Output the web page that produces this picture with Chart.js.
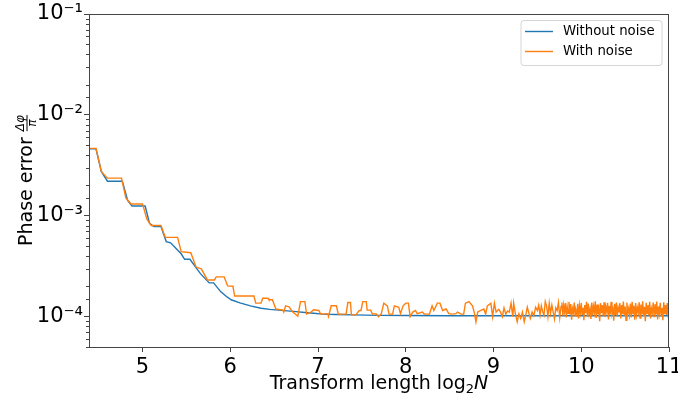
<!DOCTYPE html>
<html>
<head>
<meta charset="utf-8">
<script src="https://cdn.jsdelivr.net/npm/chart.js@4/dist/chart.umd.min.js"></script>
<style>
  body { margin: 0; background: #fff; }
  #wrap { width: 678px; height: 396px; position: relative; }
</style>
</head>
<body>
<div id="wrap"><canvas id="phaseChart"></canvas></div>
<script>
// x = log2 N, y = phase error (dphi / pi)
const xTicks = [5, 6, 7, 8, 9, 10, 11];
const labels = ['Without noise', 'With noise'];

// Without noise
const withoutNoise = [
  [4.39, 4.6e-3], [4.47, 4.6e-3], [4.53, 2.75e-3], [4.60, 2.2e-3], [4.77, 2.2e-3],
  [4.83, 1.42e-3], [4.88, 1.25e-3], [5.03, 1.25e-3], [5.08, 8.4e-4], [5.13, 7.8e-4],
  [5.21, 7.8e-4], [5.27, 5.55e-4], [5.32, 5.4e-4], [5.44, 4.2e-4], [5.48, 3.7e-4],
  [5.54, 3.7e-4], [5.62, 2.98e-4], [5.66, 2.67e-4], [5.76, 2.16e-4], [5.81, 2.16e-4],
  [5.89, 1.77e-4], [5.95, 1.6e-4], [6.01, 1.47e-4], [6.11, 1.37e-4], [6.23, 1.28e-4],
  [6.35, 1.21e-4], [6.45, 1.18e-4], [6.55, 1.16e-4], [6.65, 1.14e-4], [6.75, 1.12e-4],
  [6.85, 1.10e-4], [6.95, 1.08e-4], [7.05, 1.06e-4], [7.2, 1.05e-4], [7.4, 1.04e-4],
  [7.7, 1.03e-4], [8.0, 1.025e-4], [8.5, 1.02e-4], [9.0, 1.02e-4], [10.0, 1.02e-4],
  [11.0, 1.02e-4]
];

// With noise
const withNoise = [
  [4.39, 4.65e-3], [4.47, 4.65e-3], [4.53, 2.75e-3], [4.60, 2.36e-3], [4.76, 2.36e-3],
  [4.81, 1.5e-3], [4.87, 1.31e-3], [5.00, 1.31e-3], [5.05, 9.25e-4], [5.10, 8.0e-4],
  [5.21, 8.0e-4], [5.26, 6.1e-4], [5.40, 6.1e-4], [5.44, 4.4e-4], [5.55, 4.3e-4],
  [5.61, 3.1e-4], [5.67, 2.98e-4], [5.74, 2.31e-4], [5.82, 2.31e-4], [5.84, 2.48e-4],
  [5.93, 2.48e-4], [5.97, 2.02e-4], [6.03, 2.0e-4], [6.05, 1.6e-4], [6.27, 1.6e-4],
  [6.29, 1.36e-4], [6.35, 1.36e-4], [6.37, 1.52e-4], [6.43, 1.52e-4], [6.44, 1.47e-4],
  [6.48, 1.47e-4], [6.52, 1.19e-4], [6.60, 1.16e-4], [6.61, 1.11e-4], [6.63, 1.28e-4],
  [6.67, 1.25e-4], [6.71, 1.12e-4], [6.77, 1.01e-4], [6.80, 1.41e-4], [6.85, 1.41e-4],
  [6.87, 1.06e-4], [6.92, 1.11e-4], [6.95, 1.17e-4], [7.01, 1.15e-4], [7.03, 1.06e-4],
  [7.11, 1.07e-4], [7.12, 1.0e-4], [7.15, 1.28e-4], [7.21, 1.28e-4], [7.23, 1.06e-4],
  [7.32, 1.06e-4], [7.34, 1.38e-4], [7.37, 1.38e-4], [7.38, 1.04e-4], [7.43, 1.04e-4],
  [7.47, 1.15e-4], [7.49, 1.15e-4], [7.51, 1.41e-4], [7.55, 1.41e-4], [7.56, 1.16e-4],
  [7.60, 1.16e-4], [7.62, 1.06e-4], [7.66, 1.07e-4], [7.69, 1.0e-4], [7.72, 1.06e-4],
  [7.75, 1.36e-4], [7.79, 1.28e-4], [7.81, 1.06e-4], [7.85, 1.06e-4], [7.87, 1.28e-4],
  [7.92, 1.24e-4], [7.94, 1.07e-4], [7.97, 1.28e-4], [8.00, 1.36e-4], [8.03, 1.36e-4],
  [8.05, 1.0e-4], [8.08, 1.11e-4], [8.11, 1.15e-4], [8.13, 1.07e-4], [8.19, 1.11e-4],
  [8.21, 1.06e-4], [8.27, 1.06e-4], [8.30, 1.28e-4], [8.32, 1.15e-4], [8.36, 1.36e-4],
  [8.39, 1.36e-4], [8.42, 1.15e-4], [8.46, 1.19e-4], [8.49, 1.07e-4], [8.53, 1.06e-4],
  [8.57, 1.07e-4], [8.59, 1.11e-4], [8.63, 1.06e-4], [8.66, 1.06e-4], [8.68, 1.36e-4],
  [8.72, 1.41e-4], [8.76, 1.28e-4], [8.78, 1.11e-4], [8.80, 0.89e-4], [8.82, 1.11e-4],
  [8.85, 1.15e-4], [8.89, 1.19e-4], [8.91, 1.06e-4], [8.93, 1.28e-4], [8.97, 1.36e-4],
  [8.99, 1.0e-4], [9.01, 1.36e-4], [9.03, 1.11e-4], [9.06, 1.18e-4], [9.08, 1.11e-4],
  [9.10, 1.0e-4], [9.12, 1.22e-4], [9.14, 1.06e-4], [9.16, 1.14e-4], [9.18, 1.11e-4],
  [9.20, 1.36e-4], [9.22, 1.0e-4], [9.23, 1.36e-4], [9.25, 1.06e-4], [9.27, 0.89e-4],
  [9.29, 1.07e-4], [9.31, 0.96e-4], [9.33, 1.11e-4], [9.35, 0.89e-4], [9.37, 1.06e-4],
  [9.385, 1.24e-4], [9.40, 1.11e-4], [9.42, 0.96e-4], [9.44, 1.11e-4], [9.46, 1.02e-4],
  [9.48, 1.24e-4], [9.50, 1.15e-4], [9.515, 1.30e-4], [9.53, 1.04e-4], [9.545, 1.28e-4],
  [9.56, 1.12e-4], [9.575, 1.03e-4], [9.59, 1.41e-4], [9.605, 1.28e-4], [9.62, 1.0e-4],
  [9.635, 1.36e-4], [9.65, 1.08e-4], [9.665, 1.30e-4], [9.68, 1.11e-4], [9.695, 0.95e-4],
  [9.71, 1.22e-4], [9.725, 1.15e-4], [9.74, 1.38e-4], [9.755, 0.98e-4], [9.77, 1.26e-4],
  [9.78, 1.38e-4], [9.79, 1.02e-4], [9.80, 1.30e-4], [9.81, 1.12e-4], [9.82, 1.36e-4],
  [9.83, 0.98e-4], [9.84, 1.25e-4], [9.85, 1.08e-4], [9.86, 1.40e-4], [9.87, 1.05e-4],
  [9.88, 1.33e-4], [9.89, 0.93e-4], [9.90, 1.20e-4], [9.91, 1.10e-4], [9.92, 1.38e-4],
  [9.93, 1.02e-4], [9.94, 1.15e-4], [9.95, 1.06e-4], [9.96, 1.34e-4], [9.97, 0.96e-4],
  [9.98, 1.28e-4], [9.99, 1.10e-4], [10.00, 1.36e-4], [10.01, 1.04e-4], [10.02, 1.22e-4],
  [10.03, 0.92e-4], [10.04, 1.30e-4], [10.05, 1.08e-4], [10.06, 1.40e-4], [10.07, 1.00e-4],
  [10.08, 1.35e-4], [10.09, 1.06e-4], [10.10, 1.18e-4], [10.11, 0.95e-4], [10.12, 1.38e-4],
  [10.13, 1.03e-4], [10.14, 1.26e-4], [10.15, 1.10e-4], [10.16, 1.42e-4], [10.17, 0.97e-4],
  [10.18, 1.32e-4], [10.19, 1.06e-4], [10.20, 1.20e-4], [10.21, 0.90e-4], [10.22, 1.36e-4],
  [10.23, 1.08e-4], [10.24, 1.30e-4], [10.25, 1.02e-4], [10.26, 1.39e-4], [10.27, 0.99e-4],
  [10.28, 1.24e-4], [10.29, 1.12e-4], [10.30, 1.37e-4], [10.31, 0.94e-4], [10.32, 1.28e-4],
  [10.33, 1.05e-4], [10.34, 1.40e-4], [10.35, 1.08e-4], [10.36, 1.18e-4], [10.37, 0.91e-4],
  [10.38, 1.34e-4], [10.39, 1.04e-4], [10.40, 1.38e-4], [10.41, 1.00e-4], [10.42, 1.22e-4],
  [10.43, 1.10e-4], [10.44, 1.36e-4], [10.45, 0.96e-4], [10.46, 1.30e-4], [10.47, 1.06e-4],
  [10.48, 1.41e-4], [10.49, 1.02e-4], [10.50, 1.26e-4], [10.51, 0.92e-4], [10.52, 1.38e-4],
  [10.53, 1.08e-4], [10.54, 1.20e-4], [10.55, 1.04e-4], [10.56, 1.35e-4], [10.57, 0.98e-4],
  [10.58, 1.40e-4], [10.59, 1.07e-4], [10.60, 1.28e-4], [10.61, 0.93e-4], [10.62, 1.36e-4],
  [10.63, 1.05e-4], [10.64, 1.22e-4], [10.65, 1.10e-4], [10.66, 1.39e-4], [10.67, 0.97e-4],
  [10.68, 1.32e-4], [10.69, 1.06e-4], [10.70, 1.42e-4], [10.71, 1.01e-4], [10.72, 1.25e-4],
  [10.73, 0.90e-4], [10.74, 1.37e-4], [10.75, 1.08e-4], [10.76, 1.30e-4], [10.77, 1.03e-4],
  [10.78, 1.40e-4], [10.79, 0.96e-4], [10.80, 1.20e-4], [10.81, 1.10e-4], [10.82, 1.38e-4],
  [10.83, 1.00e-4], [10.84, 1.33e-4], [10.85, 1.06e-4], [10.86, 1.41e-4], [10.87, 0.94e-4],
  [10.88, 1.26e-4], [10.89, 1.08e-4], [10.90, 1.37e-4], [10.91, 1.02e-4], [10.92, 1.22e-4],
  [10.93, 0.92e-4], [10.94, 1.39e-4], [10.95, 1.06e-4], [10.96, 1.30e-4], [10.97, 1.04e-4],
  [10.98, 1.36e-4], [10.99, 0.98e-4], [11.00, 1.20e-4]
];

const colors = ['#1f77b4', '#ff7f0e'];
const FONT = "'DejaVu Sans', sans-serif";
const SUP = { '-': '\u207B', '0': '\u2070', '1': '\u00B9', '2': '\u00B2', '3': '\u00B3',
  '4': '\u2074', '5': '\u2075', '6': '\u2076', '7': '\u2077', '8': '\u2078', '9': '\u2079' };

function isDecade(v) {
  const e = Math.log10(v);
  return Math.abs(e - Math.round(e)) < 1e-9;
}

// frame, minor ticks, axis titles and legend in matplotlib style
const decor = {
  id: 'decor',
  beforeDraw(chart) {
    const ctx = chart.ctx;
    ctx.save();
    ctx.fillStyle = '#fff';
    ctx.fillRect(0, 0, chart.width, chart.height);
    ctx.restore();
  },
  afterDraw(chart) {
    const ctx = chart.ctx;
    const a = chart.chartArea;
    const ys = chart.scales.y;
    ctx.save();

    // frame
    ctx.strokeStyle = '#444';
    ctx.lineWidth = 1;
    ctx.strokeRect(a.left + 0.5, a.top + 0.5, a.right - a.left - 1, a.bottom - a.top);

    // minor y ticks
    ys.ticks.forEach(t => {
      if (isDecade(t.value)) return;
      const py = Math.round(ys.getPixelForValue(t.value)) + 0.5;
      ctx.beginPath();
      ctx.moveTo(a.left - 3, py);
      ctx.lineTo(a.left, py);
      ctx.stroke();
    });

    ctx.fillStyle = '#000';

    // x title: Transform length log2 N
    const xt1 = 'Transform length log';
    ctx.font = '19px ' + FONT;
    const w1 = ctx.measureText(xt1).width;
    ctx.font = '13px ' + FONT;
    const w2 = ctx.measureText('2').width;
    ctx.font = 'italic 19px ' + FONT;
    const w3 = ctx.measureText('N').width;
    const cx = (a.left + a.right) / 2;
    let x0 = cx - (w1 + w2 + w3) / 2;
    const base = 389;
    ctx.textBaseline = 'alphabetic';
    ctx.textAlign = 'left';
    ctx.font = '19px ' + FONT;
    ctx.fillText(xt1, x0, base);
    ctx.font = '13px ' + FONT;
    ctx.fillText('2', x0 + w1, base + 4);
    ctx.font = 'italic 19px ' + FONT;
    ctx.fillText('N', x0 + w1 + w2, base);

    // y title: Phase error dphi/pi
    ctx.save();
    ctx.translate(26, (a.top + a.bottom) / 2);
    ctx.rotate(-Math.PI / 2);
    const yt = 'Phase error';
    ctx.font = '19px ' + FONT;
    const wy = ctx.measureText(yt + ' ').width;
    ctx.font = 'italic 12px ' + FONT;
    const wf = Math.max(ctx.measureText('\u0394\u03C6').width, ctx.measureText('\u03C0').width);
    let u0 = -(wy + wf) / 2;
    ctx.font = '19px ' + FONT;
    ctx.textBaseline = 'middle';
    ctx.fillText(yt, u0, 1);
    const fu = u0 + wy;
    ctx.textAlign = 'center';
    ctx.textBaseline = 'alphabetic';
    ctx.font = 'italic 12px ' + FONT;
    ctx.fillText('\u0394\u03C6', fu + wf / 2, -2);
    ctx.fillText('\u03C0', fu + wf / 2, 10);
    ctx.fillRect(fu, 0.5, wf, 1);
    ctx.restore();

    // legend
    const lx = 521, ly = 20.5, lw = 141, lh = 45;
    ctx.beginPath();
    ctx.roundRect(lx, ly, lw, lh, 3);
    ctx.fillStyle = 'rgba(255,255,255,0.8)';
    ctx.fill();
    ctx.strokeStyle = '#d5d5d5';
    ctx.stroke();
    ctx.font = '13.3px ' + FONT;
    ctx.textAlign = 'left';
    ctx.textBaseline = 'middle';
    labels.forEach((lab, i) => {
      const yy = 31.5 + i * 20;
      ctx.strokeStyle = colors[i];
      ctx.lineWidth = 1.4;
      ctx.beginPath();
      ctx.moveTo(525, yy);
      ctx.lineTo(553, yy);
      ctx.stroke();
      ctx.fillStyle = '#000';
      ctx.fillText(lab, 563, yy);
    });
    ctx.restore();
  }
};

const ctx = document.getElementById('phaseChart').getContext('2d');
const phaseChart = new Chart(ctx, {
  type: 'line',
  data: {
    datasets: [{
      label: labels[0],
      data: withoutNoise.map(p => ({ x: p[0], y: p[1] })),
      borderColor: colors[0],
      borderWidth: 1.4,
      pointRadius: 0,
      tension: 0,
      order: 2
    }, {
      label: labels[1],
      data: withNoise.map(p => ({ x: p[0], y: p[1] })),
      borderColor: colors[1],
      borderWidth: 1.4,
      pointRadius: 0,
      tension: 0,
      order: 1
    }]
  },
  options: {
    responsive: true,
    maintainAspectRatio: false,
    animation: false,
    layout: { padding: { left: 0, top: 14, right: 9, bottom: 0 } },
    plugins: { legend: { display: false }, tooltip: { enabled: false } },
    scales: {
      x: {
        type: 'linear',
        min: 4.39,
        max: 11,
        afterBuildTicks: scale => { scale.ticks = xTicks.map(v => ({ value: v })); },
        afterFit: scale => { scale.height = 49; scale.paddingLeft = 0; scale.paddingRight = 0; },
        ticks: {
          autoSkip: false,
          maxRotation: 0,
          padding: 3,
          color: '#000',
          font: { family: FONT, size: 21 },
          callback: v => String(v)
        },
        grid: { drawOnChartArea: false, tickLength: 5, color: '#444' },
        border: { display: false }
      },
      y: {
        type: 'logarithmic',
        min: 5e-5,
        max: 1e-1,
        afterFit: scale => { scale.width = 89; scale.paddingTop = 0; scale.paddingBottom = 0; },
        ticks: {
          autoSkip: false,
          padding: 1,
          color: '#000',
          font: { family: FONT, size: 21 },
          callback: v => {
            if (!isDecade(v)) return '';
            const e = String(Math.round(Math.log10(v)));
            return '10' + e.split('').map(c => SUP[c]).join('');
          }
        },
        grid: {
          drawOnChartArea: false,
          tickLength: 5,
          color: c => (c.tick && isDecade(c.tick.value)) ? '#444' : 'rgba(0,0,0,0)'
        },
        border: { display: false }
      }
    }
  },
  plugins: [decor]
});
</script>
</body>
</html>
